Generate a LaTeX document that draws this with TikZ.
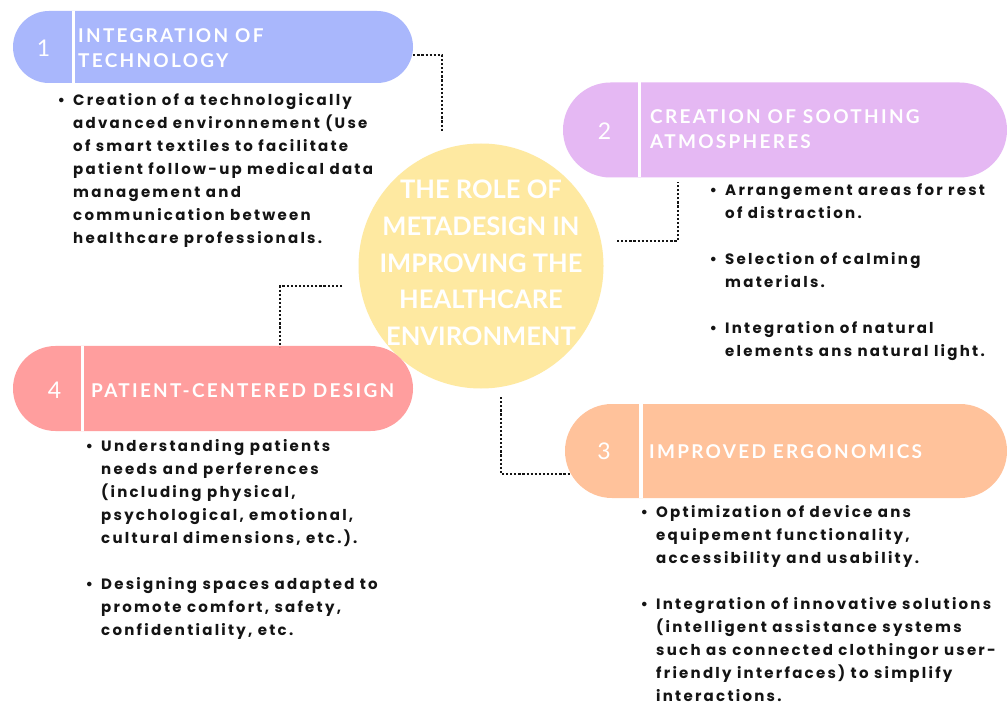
\documentclass[tikz,border=0pt]{standalone}
\usepackage{fontspec}
\setmainfont{Lato}
\newfontfamily\titlefont{Lato}[LetterSpace=12]
\newfontfamily\bodyfont{Poppins}[LetterSpace=15]
\newfontfamily\numfont{Lato}
\usetikzlibrary{shapes.misc}
\definecolor{cBlue}{HTML}{A9B7FC}
\definecolor{cPurple}{HTML}{E5B8F3}
\definecolor{cOrange}{HTML}{FFC29B}
\definecolor{cPink}{HTML}{FF9E9E}
\definecolor{cYellow}{HTML}{FEE9A1}
\definecolor{ink}{HTML}{141414}
\newcommand\bl{\leavevmode\llap{•\hspace{8pt}}}
\tikzset{
  pill/.style={rounded rectangle, inner sep=0pt, draw=none},
  divider/.style={draw=white, line width=3.5pt},
  numtext/.style={anchor=base, inner sep=0pt, text=white, font=\numfont\fontsize{23}{23}\selectfont},
  titletext/.style={anchor=base west, inner sep=0pt, text=white, font=\titlefont\bfseries\fontsize{19}{25}\selectfont},
  bodytext/.style={anchor=base west, inner sep=0pt, text=ink, font=\bodyfont\bfseries\fontsize{15}{23}\selectfont},
  centertext/.style={anchor=base, inner sep=0pt, text=white, font=\bfseries\fontsize{25.5}{36.6}\selectfont},
  conn/.style={draw=ink, line width=2.3pt, dash pattern=on 2.2pt off 1.9pt}
}
\begin{document}
\begin{tikzpicture}[x=1pt,y=-1pt]
\useasboundingbox (0,0) rectangle (1007,703);
\fill[white] (0,0) rectangle (1007,703);

% central circle
\node[circle, fill=cYellow, minimum size=245pt, inner sep=0pt] (c) at (481,266) {};
\node[centertext] (ct) at (481,199) {\parbox[t]{260pt}{\centering THE ROLE OF\\ METADESIGN IN\\ IMPROVING THE\\ HEALTHCARE\\ ENVIRONMENT}};

% pills
\node[pill, fill=cBlue, minimum width=400pt, minimum height=72pt] (p1) at (213,47) {};
\node[pill, fill=cPurple, minimum width=444pt, minimum height=95pt] (p2) at (785,130) {};
\node[pill, fill=cOrange, minimum width=442pt, minimum height=94pt] (p3) at (786,451) {};
\node[pill, fill=cPink, minimum width=400pt, minimum height=85pt] (p4) at (213,388.5) {};

\draw[divider] (73.5,11) -- (73.5,83);
\draw[divider] (639.5,82.5) -- (639.5,177.5);
\draw[divider] (641,404) -- (641,498);
\draw[divider] (82.5,346) -- (82.5,431);

% numbers
\node[numtext] (n1) at (43.5,57) {1};
\node[numtext] (n2) at (604.5,140) {2};
\node[numtext] (n3) at (604,459) {3};
\node[numtext] (n4) at (54.5,399) {4};

% titles
\node[titletext] (t1) at (78,43) {\parbox[t]{320pt}{INTEGRATION OF\\ TECHNOLOGY}};
\node[titletext] (t2) at (650,124) {\parbox[t]{350pt}{CREATION OF SOOTHING\\ ATMOSPHERES}};
\node[titletext] (t3) at (649,458) {IMPROVED ERGONOMICS};
\node[titletext] (t4) at (91,397) {PATIENT-CENTERED DESIGN};

% connectors
\coordinate (k1) at (442,131);
\coordinate (k2) at (617,241);
\coordinate (k2b) at (678,182);
\coordinate (k3) at (501,397);
\coordinate (k3b) at (570,474);
\coordinate (k4) at (342,286);
\coordinate (k4b) at (280,347);
\draw[conn] ([yshift=-8pt]p1.east) -| (k1);
\draw[conn] (k2) -| (k2b);
\draw[conn] (k3) |- (k3b);
\draw[conn] (k4) -| (k4b);

% body texts
\node[bodytext] (b1) at (73,106) {\parbox[t]{340pt}{\raggedright
\bl Creation of a technologically\\
advanced environnement (Use\\
of smart textiles to facilitate\\
patient follow-up medical data\\
management and\\
communication between\\
healthcare professionals.}};

\node[bodytext] (b2) at (725,196) {\parbox[t]{300pt}{\raggedright
\bl Arrangement areas for rest\\
of distraction.\\[23pt]
\bl Selection of calming\\
materials.\\[23pt]
\bl Integration of natural\\
elements ans natural light.}};

\node[bodytext] (b3) at (656,517) {\parbox[t]{360pt}{\raggedright
\bl Optimization of device ans\\
equipement functionality,\\
accessibility and usability.\\[23pt]
\bl Integration of innovative solutions\\
(intelligent assistance systems\\
such as connected clothingor user-\\
friendly interfaces) to simplify\\
interactions.}};

\node[bodytext] (b4) at (101,451) {\parbox[t]{320pt}{\raggedright
\bl Understanding patients\\
needs and perferences\\
(including physical,\\
psychological, emotional,\\
cultural dimensions, etc.).\\[23pt]
\bl Designing spaces adapted to\\
promote comfort, safety,\\
confidentiality, etc.}};
\end{tikzpicture}
\end{document}
